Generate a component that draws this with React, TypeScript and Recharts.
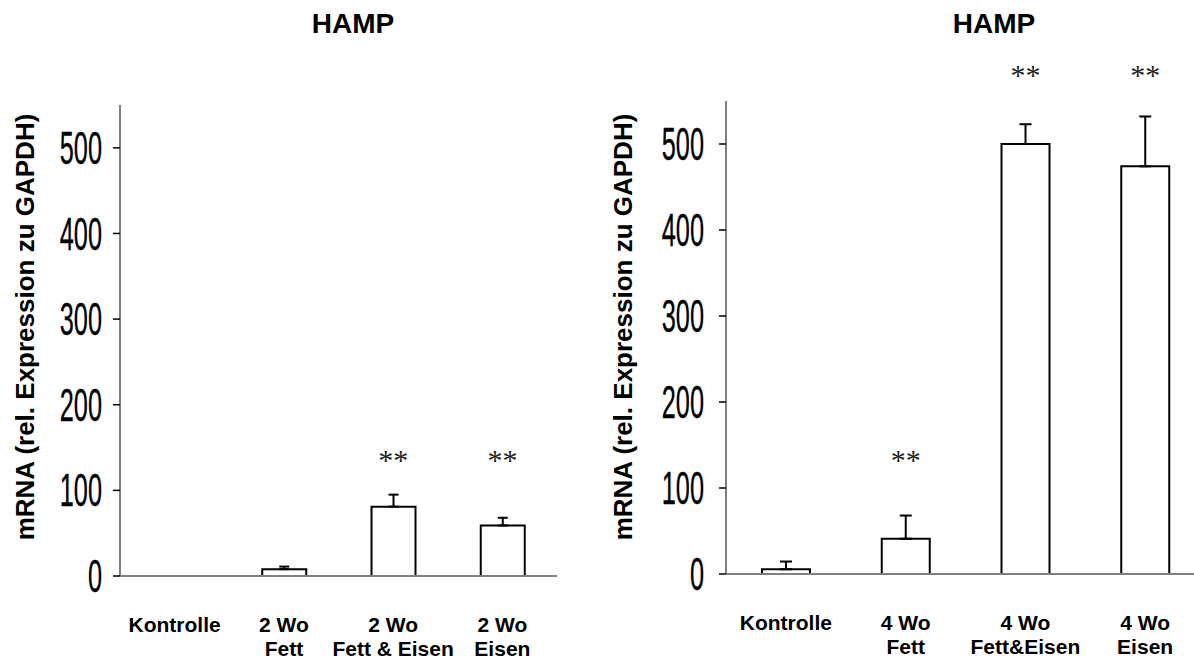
import { ComposedChart, Bar, XAxis, YAxis, ErrorBar, ReferenceDot } from "recharts";

// 2-week panel
const groups2 = ["Kontrolle", "2 Wo\nFett", "2 Wo\nFett & Eisen", "2 Wo\nEisen"];
const mean2 = [0, 8, 81, 59];
const sem2 = [1, 3, 14, 9];
const sig2: (number | null)[] = [null, null, 138, 138];

// 4-week panel
const groups4 = ["Kontrolle", "4 Wo\nFett", "4 Wo\nFett&Eisen", "4 Wo\nEisen"];
const mean4 = [5.5, 41, 500, 474];
const sem4 = [9, 27, 23, 58];
const sig4: (number | null)[] = [null, 135, 582, 582];

const yTicks = [0, 100, 200, 300, 400, 500];
const title = "HAMP";
const yLabel = "mRNA (rel. Expression zu GAPDH)";

const sans = "'Liberation Sans', Arial, Helvetica, sans-serif";
const serif = "'Liberation Serif', 'Times New Roman', serif";
const axisStyle = { stroke: "#808080", strokeWidth: 2 };

function YTick({ x, y, payload }: any) {
  return (
    <text
      x={0}
      y={0}
      transform={`translate(${x},${y}) scale(0.55,1)`}
      textAnchor="end"
      dominantBaseline="central"
      fontFamily={sans}
      fontSize={46}
      fill="#000"
      stroke="#000"
      strokeWidth={0.35}
    >
      {payload.value}
    </text>
  );
}

function XTick({ x, y, payload }: any) {
  const lines = String(payload.value).split("\n");
  return (
    <g>
      {lines.map((line, i) => (
        <text
          key={i}
          x={x}
          y={y + 56 + i * 24}
          textAnchor="middle"
          fontFamily={sans}
          fontWeight="bold"
          fontSize={21}
          fill="#000"
        >
          {line}
        </text>
      ))}
    </g>
  );
}

const Stars = (p: any) => (
  <text
    x={p.cx}
    y={p.cy + 12}
    textAnchor="middle"
    fontFamily={serif}
    fontSize={30}
    fill="#222"
  >
    **
  </text>
);

function Panel({ groups, mean, sem, sig, left, width, margin, barSize, capWidth, tickGap }: any) {
  const data = groups.map((name: string, i: number) => ({
    name,
    mean: mean[i],
    err: [0, sem[i]],
  }));
  return (
    <div style={{ position: "absolute", left, top: 0 }}>
      <ComposedChart width={width} height={661} data={data} margin={margin}>
        <XAxis
          dataKey="name"
          interval={0}
          height={80}
          tick={<XTick />}
          tickLine={false}
          tickSize={0}
          tickMargin={0}
          axisLine={axisStyle}
        />
        <YAxis
          width={60}
          domain={[0, 550]}
          ticks={yTicks}
          tick={<YTick />}
          tickSize={7}
          tickMargin={tickGap}
          tickLine={{ stroke: "#000", strokeWidth: 1.5 }}
          axisLine={axisStyle}
        />
        <Bar dataKey="mean" barSize={barSize} fill="#fff" stroke="#000" strokeWidth={2} isAnimationActive={false}>
          <ErrorBar dataKey="err" direction="y" width={capWidth} stroke="#000" strokeWidth={2} isAnimationActive={false} />
        </Bar>
        {sig.map((s: number | null, i: number) =>
          s == null ? null : (
            <ReferenceDot key={i} x={groups[i]} y={s} ifOverflow="visible" shape={Stars} />
          )
        )}
      </ComposedChart>
    </div>
  );
}

export default function App() {
  return (
    <div
      style={{
        position: "absolute",
        left: 0,
        top: 0,
        width: 1194,
        height: 661,
        overflow: "hidden",
        background: "#fff",
      }}
    >
      <Panel
        groups={groups2}
        mean={mean2}
        sem={sem2}
        sig={sig2}
        left={0}
        width={600}
        margin={{ top: 105, right: 43, left: 60, bottom: 5 }}
        barSize={44}
        capWidth={5}
        tickGap={11}
      />
      <Panel
        groups={groups4}
        mean={mean4}
        sem={sem4}
        sig={sig4}
        left={600}
        width={620}
        margin={{ top: 101, right: 15, left: 66, bottom: 7 }}
        barSize={48}
        capWidth={6}
        tickGap={15}
      />
      <svg
        width={1194}
        height={661}
        style={{ position: "absolute", left: 0, top: 0, pointerEvents: "none" }}
      >
        <text x={353} y={33} textAnchor="middle" fontFamily={sans} fontWeight="bold" fontSize={28}>
          {title}
        </text>
        <text x={994} y={33} textAnchor="middle" fontFamily={sans} fontWeight="bold" fontSize={28}>
          {title}
        </text>
        <text
          transform="translate(25,327) rotate(-90)"
          textAnchor="middle"
          dominantBaseline="central"
          fontFamily={sans}
          fontWeight="bold"
          fontSize={26}
        >
          {yLabel}
        </text>
        <text
          transform="translate(623,327) rotate(-90)"
          textAnchor="middle"
          dominantBaseline="central"
          fontFamily={sans}
          fontWeight="bold"
          fontSize={26}
        >
          {yLabel}
        </text>
      </svg>
    </div>
  );
}
